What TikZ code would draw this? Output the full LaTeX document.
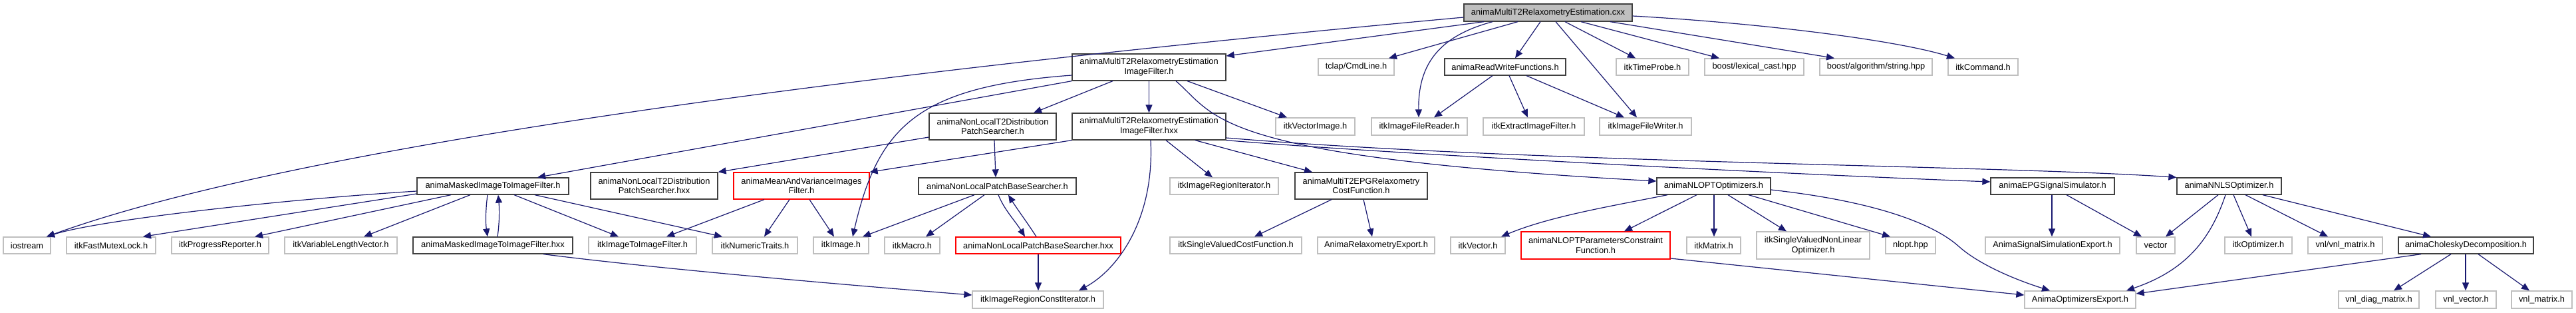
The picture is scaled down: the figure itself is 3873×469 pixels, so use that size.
\documentclass[tikz,border=0pt]{standalone}
\usepackage{fontspec}
\setmainfont{Liberation Sans}
\usetikzlibrary{arrows.meta}
\definecolor{edgec}{HTML}{191970}
\definecolor{extc}{HTML}{BFBFBF}
\definecolor{docc}{HTML}{404040}
\definecolor{rootf}{HTML}{BFBFBF}
\newcommand\nd[7]{\node[#6, minimum width={(#3-#2)*1pt}, minimum height={(#5-#4)*1pt}] (#1) at ({(#2+#3)/2},{(#4+#5)/2}) {#7};}
\tikzset{
  nbase/.style={draw, inner sep=0pt, line width=1.3pt, align=center, text=black,
    font=\fontsize{12.8}{14.7}\selectfont},
  ext/.style={nbase, draw=extc},
  doc/.style={nbase, draw=docc},
  redn/.style={nbase, draw=red},
  root/.style={nbase, draw=docc, fill=rootf},
  e/.style={draw=edgec, line width=1.2pt, -{Triangle[length=12pt,width=10pt]}, fill=none},
}
\begin{document}
\begin{tikzpicture}[x=1pt,y=-1pt]
\useasboundingbox[fill=white] (0,0) rectangle (3873,469);
% row 0
\nd{C}{2201}{2454}{6}{32}{root}{animaMultiT2RelaxometryEstimation.cxx}
% row 1
\nd{IFh}{1612}{1843}{81}{121}{doc}{animaMultiT2RelaxometryEstimation\\ImageFilter.h}
\nd{tclap}{1982}{2096}{88}{113}{ext}{tclap/CmdLine.h}
\nd{RW}{2172}{2354}{88}{113}{doc}{animaReadWriteFunctions.h}
\nd{tprobe}{2430}{2539}{88}{113}{ext}{itkTimeProbe.h}
\nd{lexcast}{2563}{2712}{88}{113}{ext}{boost/lexical\_cast.hpp}
\nd{bstr}{2736}{2905}{88}{113}{ext}{boost/algorithm/string.hpp}
\nd{cmd}{2929}{3034}{88}{113}{ext}{itkCommand.h}
% row 2
\nd{NLTh}{1397}{1588}{170}{210}{doc}{animaNonLocalT2Distribution\\PatchSearcher.h}
\nd{IFhxx}{1612}{1843}{170}{210}{doc}{animaMultiT2RelaxometryEstimation\\ImageFilter.hxx}
\nd{vimg}{1918}{2037}{177}{203}{ext}{itkVectorImage.h}
\nd{reader}{2062}{2206}{177}{203}{ext}{itkImageFileReader.h}
\nd{extract}{2230}{2382}{177}{203}{ext}{itkExtractImageFilter.h}
\nd{writer}{2405}{2543}{177}{203}{ext}{itkImageFileWriter.h}
% row 3
\nd{MH}{627}{855}{267}{292}{doc}{animaMaskedImageToImageFilter.h}
\nd{NLThxx}{888}{1079}{259}{299}{doc}{animaNonLocalT2Distribution\\PatchSearcher.hxx}
\nd{MV}{1103}{1307}{259}{299}{redn}{animaMeanAndVarianceImages\\Filter.h}
\nd{NLPBh}{1381}{1618}{267}{292}{doc}{animaNonLocalPatchBaseSearcher.h}
\nd{rit}{1759}{1922}{267}{292}{ext}{itkImageRegionIterator.h}
\nd{cost}{1947}{2146}{259}{299}{doc}{animaMultiT2EPGRelaxometry\\CostFunction.h}
\nd{NLOPT}{2491}{2662}{267}{292}{doc}{animaNLOPTOptimizers.h}
\nd{EPG}{2993}{3179}{267}{292}{doc}{animaEPGSignalSimulator.h}
\nd{NNLS}{3273}{3430}{267}{292}{doc}{animaNNLSOptimizer.h}
% row 4
\nd{iostream}{5}{76}{356}{381}{ext}{iostream}
\nd{fml}{100}{234}{356}{381}{ext}{itkFastMutexLock.h}
\nd{prog}{258}{404}{356}{381}{ext}{itkProgressReporter.h}
\nd{vlv}{428}{597}{356}{381}{ext}{itkVariableLengthVector.h}
\nd{MHxx}{621}{861}{356}{381}{doc}{animaMaskedImageToImageFilter.hxx}
\nd{iti}{885}{1047}{356}{381}{ext}{itkImageToImageFilter.h}
\nd{ntr}{1071}{1199}{356}{381}{ext}{itkNumericTraits.h}
\nd{img}{1223}{1306}{356}{381}{ext}{itkImage.h}
\nd{macro}{1330}{1413}{356}{381}{ext}{itkMacro.h}
\nd{NLPBhxx}{1437}{1685}{356}{381}{redn}{animaNonLocalPatchBaseSearcher.hxx}
\nd{svcf}{1759}{1957}{356}{381}{ext}{itkSingleValuedCostFunction.h}
\nd{relexp}{1981}{2157}{356}{381}{ext}{AnimaRelaxometryExport.h}
\nd{vec}{2181}{2263}{356}{381}{ext}{itkVector.h}
\nd{nlpc}{2287}{2511}{348}{389}{redn}{animaNLOPTParametersConstraint\\Function.h}
\nd{mat}{2536}{2617}{356}{381}{ext}{itkMatrix.h}
\nd{svnlo}{2641}{2811}{348}{389}{ext}{itkSingleValuedNonLinear\\Optimizer.h}
\nd{nloptpp}{2835}{2910}{356}{381}{ext}{nlopt.hpp}
\nd{sigexp}{2985}{3187}{356}{381}{ext}{AnimaSignalSimulationExport.h}
\nd{vector}{3212}{3270}{356}{381}{ext}{vector}
\nd{opt}{3345}{3446}{356}{381}{ext}{itkOptimizer.h}
\nd{vnlm}{3470}{3582}{356}{381}{ext}{vnl/vnl\_matrix.h}
\nd{chol}{3606}{3809}{356}{381}{doc}{animaCholeskyDecomposition.h}
% row 5
\nd{crit}{1462}{1659}{437}{463}{ext}{itkImageRegionConstIterator.h}
\nd{optexp}{3044}{3211}{437}{463}{ext}{AnimaOptimizersExport.h}
\nd{vdiag}{3516}{3637}{437}{463}{ext}{vnl\_diag\_matrix.h}
\nd{vvec}{3662}{3753}{437}{463}{ext}{vnl\_vector.h}
\nd{vmat}{3776}{3867}{437}{463}{ext}{vnl\_matrix.h}
% ---- edges from C
\draw[e] (C.south -| 2231,0) -- (IFh.east |- 0,84);
\draw[e] (C.west |- 0,26) .. controls (1500,90) and (500,200) .. (iostream.north -| 70,0);
\draw[e] (C.south -| 2282,0) -- (tclap.north -| 2088,0);
\draw[e] (C.south -| 2244,0) .. controls (2160,55) and (2132,100) .. (reader.north -| 2133,0);
\draw[e] (C.south -| 2316,0) -- (RW.north -| 2278,0);
\draw[e] (C.south -| 2339,0) -- (writer.north -| 2461,0);
\draw[e] (C.south -| 2353,0) -- (tprobe.north -| 2459,0);
\draw[e] (C.south -| 2377,0) -- (lexcast.north -| 2585,0);
\draw[e] (C.south -| 2421,0) -- (bstr.north -| 2758,0);
\draw[e] (C.east |- 0,24) .. controls (2650,35) and (2850,60) .. (cmd.north -| 2939,0);
% ---- from IFh
\draw[e] (IFh.south west) -- (MH.north -| 808,0);
\draw[e] (IFh.west |- 0,113) .. controls (1380,130) and (1320,190) .. (img.north -| 1282,0);
\draw[e] (IFh.south -| 1673,0) -- (NLTh.north -| 1554,0);
\draw[e] (IFh.south) -- (IFhxx.north);
\draw[e] (IFh.south -| 1785,0) -- (vimg.north -| 1935,0);
\draw[e] (IFh.south -| 1768,0) .. controls (1830,175) and (1820,235) .. (NLOPT.west |- 0,272);
% ---- from IFhxx
\draw[e] (IFhxx.south west) -- (MV.north east);
\draw[e] (IFhxx.south -| 1730,0) .. controls (1736,330) and (1680,405) .. (crit.north -| 1622,0);
\draw[e] (IFhxx.south -| 1753,0) -- (rit.north -| 1823,0);
\draw[e] (IFhxx.south -| 1797,0) -- (cost.north -| 1973,0);
\draw[e] (IFhxx.south east) .. controls (2100,232) and (2700,262) .. (EPG.west |- 0,273);
\draw[e] (IFhxx.east |- 0,207) .. controls (2300,245) and (3000,248) .. (NNLS.north west);
% ---- NLT2 searcher
\draw[e] (NLTh.west |- 0,206) -- (NLThxx.north east);
\draw[e] (NLTh.south -| 1495,0) -- (NLPBh.north -| 1497,0);
% ---- masked filter
\draw[e] (MH.west |- 0,287) .. controls (420,300) and (150,330) .. (iostream.north -| 70,0);
\draw[e] (MH.west |- 0,291) -- (fml.north -| 215,0);
\draw[e] (MH.south -| 678,0) -- (prog.north -| 383,0);
\draw[e] (MH.south -| 707,0) -- (vlv.north -| 547,0);
\draw[e] (MH.south -| 733,0) .. controls (730,315) and (730,335) .. (MHxx.north -| 733,0);
\draw[e] (MHxx.north -| 748,0) .. controls (751,335) and (751,315) .. (MH.south -| 749,0);
\draw[e] (MH.south -| 773,0) -- (iti.north -| 930,0);
\draw[e] (MH.south -| 804,0) -- (ntr.north -| 1086,0);
\draw[e] (MHxx.south -| 817,0) .. controls (1000,405) and (1300,430) .. (crit.west |- 0,443);
% ---- mean and variance
\draw[e] (MV.south -| 1149,0) -- (iti.north -| 1002,0);
\draw[e] (MV.south -| 1187,0) -- (ntr.north -| 1149,0);
\draw[e] (MV.south -| 1217,0) -- (img.north -| 1254,0);
% ---- patch base searcher
\draw[e] (NLPBh.south -| 1465,0) -- (img.north -| 1297,0);
\draw[e] (NLPBh.south -| 1480,0) -- (macro.north -| 1392,0);
\draw[e] (NLPBh.south -| 1501,0) .. controls (1510,315) and (1525,330) .. (NLPBhxx.north -| 1541,0);
\draw[e] (NLPBhxx.north -| 1558,0) .. controls (1545,335) and (1530,315) .. (NLPBh.south -| 1516,0);
\draw[e] (NLPBhxx.south -| 1561,0) -- (crit.north -| 1561,0);
% ---- cost function
\draw[e] (cost.south -| 2002,0) -- (svcf.north -| 1886,0);
\draw[e] (cost.south -| 2050,0) -- (relexp.north -| 2063,0);
% ---- read write
\draw[e] (RW.south -| 2244,0) -- (reader.north -| 2156,0);
\draw[e] (RW.south -| 2269,0) -- (extract.north -| 2297,0);
\draw[e] (RW.south -| 2295,0) -- (writer.north -| 2442,0);
% ---- NLOPT
\draw[e] (NLOPT.south -| 2507,0) .. controls (2420,310) and (2330,325) .. (vec.north -| 2257,0);
\draw[e] (NLOPT.south -| 2551,0) -- (nlpc.north -| 2442,0);
\draw[e] (NLOPT.south -| 2577,0) -- (mat.north -| 2577,0);
\draw[e] (NLOPT.south -| 2598,0) -- (svnlo.north -| 2686,0);
\draw[e] (NLOPT.south -| 2629,0) -- (nloptpp.north -| 2842,0);
\draw[e] (NLOPT.east |- 0,285) .. controls (2800,300) and (2900,330) .. (2945,370)
   .. controls (2975,397) and (3030,420) .. (optexp.north -| 3082,0);
\draw[e] (nlpc.east |- 0,388) -- (optexp.west |- 0,443);
% ---- EPG simulator
\draw[e] (EPG.south -| 3085,0) -- (sigexp.north -| 3085,0);
\draw[e] (EPG.south -| 3107,0) -- (vector.north -| 3220,0);
% ---- NNLS
\draw[e] (NNLS.south -| 3335,0) -- (vector.north -| 3256,0);
\draw[e] (NNLS.south -| 3346,0) .. controls (3325,355) and (3290,405) .. (optexp.north -| 3197,0);
\draw[e] (NNLS.south -| 3358,0) -- (opt.north -| 3385,0);
\draw[e] (NNLS.south -| 3376,0) -- (vnlm.north -| 3500,0);
\draw[e] (NNLS.south -| 3402,0) -- (chol.north -| 3655,0);
% ---- Cholesky
\draw[e] (chol.south -| 3640,0) -- (optexp.east |- 0,441);
\draw[e] (chol.south -| 3685,0) -- (vdiag.north -| 3599,0);
\draw[e] (chol.south -| 3707,0) -- (vvec.north -| 3707,0);
\draw[e] (chol.south -| 3726,0) -- (vmat.north -| 3803,0);
\end{tikzpicture}
\end{document}
